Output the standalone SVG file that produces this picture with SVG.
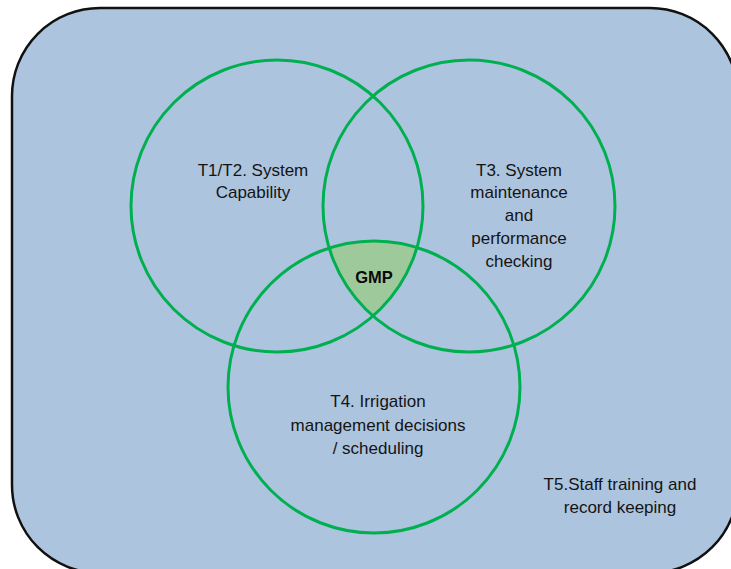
<svg xmlns="http://www.w3.org/2000/svg" width="731" height="569" viewBox="0 0 731 569">
  <style>
    .ring { fill: none; stroke: #00b050; stroke-width: 3; }
    .lbl { font-family: "Liberation Sans", Arial, sans-serif; font-size: 17px; fill: #141414; text-anchor: middle; }
    .core { font-family: "Liberation Sans", Arial, sans-serif; font-size: 16.5px; font-weight: bold; fill: #0a0a0a; text-anchor: middle; }
  </style>
  <defs>
    <clipPath id="clipA"><circle cx="277" cy="206" r="146"/></clipPath>
    <clipPath id="clipB"><circle cx="469" cy="206" r="146"/></clipPath>
  </defs>

  <!-- outer frame: T5 staff training and record keeping -->
  <g id="t5-frame">
    <rect x="12" y="8" width="726" height="565" rx="88" ry="88" fill="#adc4de" stroke="#111" stroke-width="2.5"/>
    <text class="lbl" x="620" y="490">T5.Staff training and</text>
    <text class="lbl" x="620" y="513">record keeping</text>
  </g>

  <!-- shared centre region -->
  <g id="gmp">
    <g clip-path="url(#clipB)">
      <g clip-path="url(#clipA)">
        <circle cx="374" cy="387" r="146" fill="#9ec99a"/>
      </g>
    </g>
  </g>

  <g id="t1-t2">
    <circle class="ring" cx="277" cy="206" r="146"/>
    <text class="lbl" x="253" y="176">T1/T2. System</text>
    <text class="lbl" x="253" y="198">Capability</text>
  </g>

  <g id="t3">
    <circle class="ring" cx="469" cy="206" r="146"/>
    <text class="lbl" x="519" y="176">T3. System</text>
    <text class="lbl" x="519" y="198">maintenance</text>
    <text class="lbl" x="519" y="221">and</text>
    <text class="lbl" x="519" y="244">performance</text>
    <text class="lbl" x="519" y="267">checking</text>
  </g>

  <g id="t4">
    <circle class="ring" cx="374" cy="387" r="146"/>
    <text class="lbl" x="378" y="407">T4. Irrigation</text>
    <text class="lbl" x="378" y="431">management decisions</text>
    <text class="lbl" x="378" y="454">/ scheduling</text>
  </g>

  <g id="gmp-label">
    <text class="core" x="374" y="283">GMP</text>
  </g>
</svg>
